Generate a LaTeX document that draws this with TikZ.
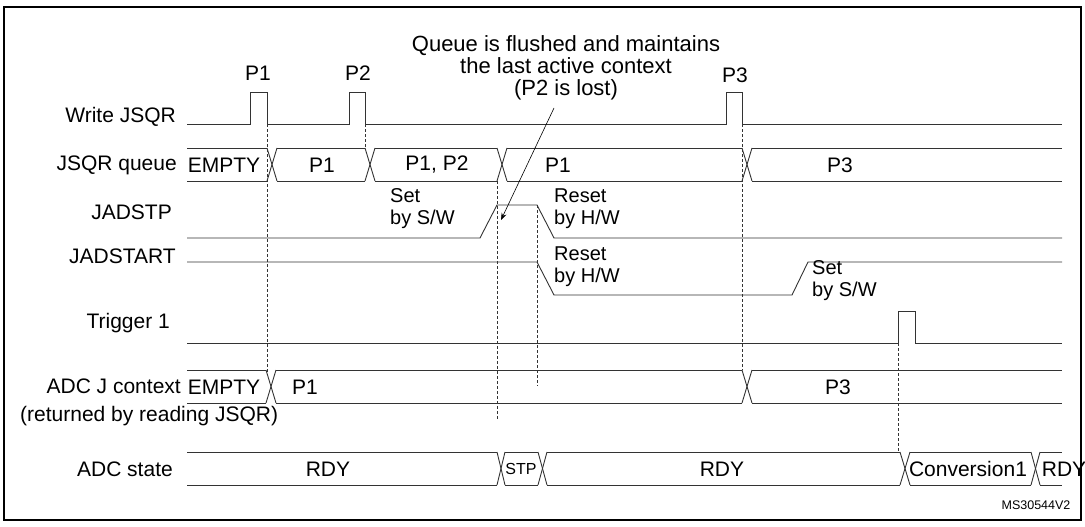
\documentclass[tikz,border=0pt]{standalone}
\usepackage{fontspec}
\setmainfont{Liberation Sans}
\usetikzlibrary{arrows.meta}
\tikzstyle{sig}=[draw=black!80,line width=0.9pt]
\tikzstyle{guide}=[draw=black!80,dashed,dash pattern=on 3pt off 2pt,line width=0.6pt]
\tikzstyle{lbl}=[anchor=east,inner sep=0pt]
\tikzstyle{note}=[anchor=west,inner sep=0pt,align=left,font=\fontsize{20}{22}\selectfont]
% one bus lane: #1 top y, #2 bottom y, #3 list of crossing x
\newcommand{\busline}[3]{%
  \foreach \cx in {#3} {
    \draw[sig] (\cx,#1) -- (\cx+10,#2);
    \draw[sig] (\cx,#2) -- (\cx+10,#1);
  }}
\begin{document}
\begin{tikzpicture}[x=1pt,y=-1pt,font=\fontsize{21}{24}\selectfont]
  \useasboundingbox (0,0) rectangle (1085,527);
  \draw[line width=1.2pt] (4,7) rectangle (1081,520);
  % signal names
  \node[lbl] (wr)    at (176,117) {Write JSQR};
  \node[lbl] (queue) at (177,165) {JSQR queue};
  \node[lbl] (stp)   at (172,212) {JADSTP};
  \node[lbl] (start) at (176,256) {JADSTART};
  \node[lbl] (trig)  at (170,323) {Trigger 1};
  \node[lbl] (ctx)   at (181,386) {ADC J context};
  \node[anchor=west,inner sep=0pt] (ret) at (20,416) {(returned by reading JSQR)};
  \node[lbl] (state) at (173,469) {ADC state};
  % write JSQR
  \draw[sig] (187,124) -- (250,124) -- (250,92) -- (267,92) -- (267,124) -- (349,124)
    -- (349,92) -- (365,92) -- (365,124) -- (726,124) -- (726,92) -- (742,92) -- (742,124) -- (1062,124);
  \node (p1) at (258,73) {P1};
  \node (p2) at (358,73) {P2};
  \node (p3) at (735,75) {P3};
  % JSQR queue
  \draw[sig] (187,148) -- (267,148) (277,148) -- (365,148) (375,148) -- (497,148) (507,148) -- (742,148) (752,148) -- (1062,148);
  \draw[sig] (187,181) -- (267,181) (277,181) -- (365,181) (375,181) -- (497,181) (507,181) -- (742,181) (752,181) -- (1062,181);
  \busline{148}{181}{267,365,497,742}
  \node (qe) at (224,165) {EMPTY};
  \node (q1) at (322,165) {P1};
  \node (q2) at (437,165) {P1, P2};
  \node (q3) at (558,165) {P1};
  \node (q4) at (840,165) {P3};
  % JADSTP / JADSTART
  \draw[sig] (187,238) -- (480,238) -- (497,205) -- (537,205) -- (554,238) -- (1062,238);
  \draw[sig] (187,262) -- (537,262) -- (554,295) -- (792,295) -- (808,262) -- (1062,262);
  \node[note] (set1)   at (390,209) {Set\\by S/W};
  \node[note] (reset1) at (554,209) {Reset\\by H/W};
  \node[note] (reset2) at (554,267) {Reset\\by H/W};
  \node[note] (set2)   at (812,281) {Set\\by S/W};
  % trigger
  \draw[sig] (187,343) -- (898,343) -- (898,311) -- (915,311) -- (915,343) -- (1062,343);
  % ADC J context
  \draw[sig] (187,370) -- (266,370) (276,370) -- (742,370) (752,370) -- (1062,370);
  \draw[sig] (187,403) -- (266,403) (276,403) -- (742,403) (752,403) -- (1062,403);
  \busline{370}{403}{266,742}
  \node (ce) at (224,387) {EMPTY};
  \node (c1) at (305,387) {P1};
  \node (c3) at (838,387) {P3};
  % ADC state
  \draw[sig] (187,452) -- (497,452) (505,452) -- (538,452) (547,452) -- (900,452) (910,452) -- (1031,452) (1040,452) -- (1062,452);
  \draw[sig] (187,485) -- (497,485) (505,485) -- (538,485) (547,485) -- (900,485) (910,485) -- (1031,485) (1040,485) -- (1062,485);
  \foreach \a/\b in {497/505,538/547,900/910,1031/1040} {
    \draw[sig] (\a,452) -- (\b,485);
    \draw[sig] (\a,485) -- (\b,452);
  }
  \node (s1) at (328,469) {RDY};
  \node[font=\fontsize{16}{18}\selectfont] (s2) at (521,469) {STP};
  \node (s3) at (722,469) {RDY};
  \node (s4) at (968,469) {Conversion1};
  \node (s5) at (1064,469) {RDY};
  % guides
  \draw[guide] (267,124) -- (267,375);
  \draw[guide] (365,124) -- (365,148);
  \draw[guide] (497,181) -- (497,420);
  \draw[guide] (537,205) -- (537,386);
  \draw[guide] (742,124) -- (742,370);
  \draw[guide] (898,343) -- (898,452);
  % comment on the flush
  \node[align=center,font=\fontsize{22}{22}\selectfont] (flush) at (566,68)
    {Queue is flushed and maintains\\the last active context\\(P2 is lost)};
  \coordinate (lost) at (501,220);
  \draw[black,line width=0.6pt,-{Stealth[length=7pt,width=5pt]}] (554,108) -- (lost);
  \node[font=\fontsize{12.5}{14}\selectfont] (ref) at (1036,505) {MS30544V2};
\end{tikzpicture}
\end{document}
